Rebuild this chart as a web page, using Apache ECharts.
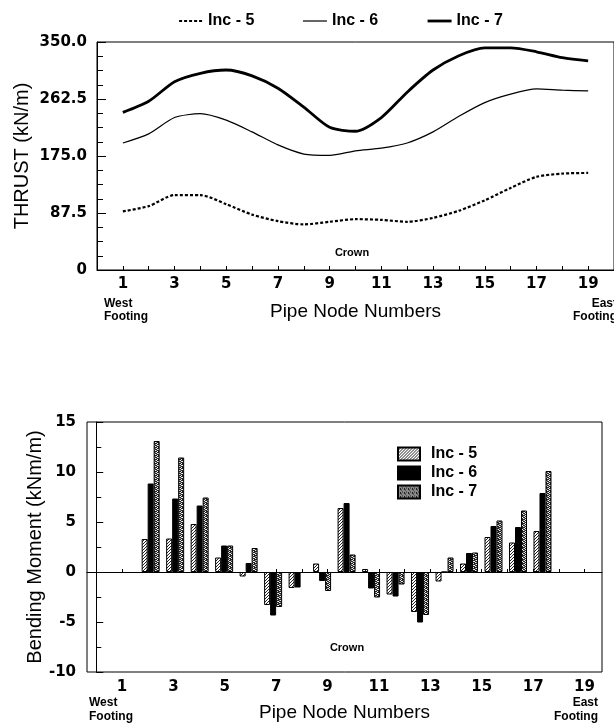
<!DOCTYPE html>
<html>
<head>
<meta charset="utf-8">
<script src="https://cdn.jsdelivr.net/npm/echarts@6/dist/echarts.min.js"></script>
<style>
  html, body { margin: 0; padding: 0; background: #fff; }
  #chart { width: 614px; height: 725px; }
</style>
</head>
<body>
<div id="chart"></div>
<script>
// pipe nodes and thrust values (kN/m)
var nodes = [1, 2, 3, 4, 5, 6, 7, 8, 9, 10, 11, 12, 13, 14, 15, 16, 17, 18, 19];
var thrust5 = [90, 98, 115, 115, 101, 85, 75, 70, 74, 78, 77, 74, 80, 91, 107, 126, 143, 148, 149];
var thrust6 = [195, 209, 234, 240, 230, 212, 192, 178, 176, 183, 187, 195, 212, 236, 257, 270, 278, 276, 275];
var thrust7 = [242, 259, 289, 302, 307, 298, 279, 250, 219, 213, 234, 273, 307, 329, 341, 341, 335, 326, 321];

// bending moment (kNm/m), lower plot
var barNodes = [2, 3, 4, 5, 6, 7, 8, 9, 10, 11, 12, 13, 14, 15, 16, 17, 18];
var moment5 = [3.3, 3.35, 4.8, 1.45, -0.45, -3.3, -1.6, 0.85, 6.4, 0.3, -2.25, -4.0, -0.95, 0.85, 3.5, 2.95, 4.1];
var moment6 = [8.85, 7.35, 6.65, 2.65, 0.9, -4.35, -1.55, -0.9, 6.9, -1.65, -2.45, -5.05, 0, 1.9, 4.6, 4.5, 7.9];
var moment7 = [13.1, 11.45, 7.45, 2.65, 2.4, -3.5, -0.1, -1.9, 1.75, -2.55, -1.25, -4.3, 1.45, 1.95, 5.15, 6.15, 10.1];

var xLabels = [1, 3, 5, 7, 9, 11, 13, 15, 17, 19];
var incNames = ['Inc - 5', 'Inc - 6', 'Inc - 7'];
var barNames = ['m5', 'm6', 'm7'];

var FONT = 'Liberation Sans, Arial, sans-serif';
var TICKFONT = 'DejaVu Sans, Liberation Sans, sans-serif';

// line styles shared by the curves and their legend samples
var lineStyles = [
    {color: '#000', width: 2.2, type: [3, 2]},
    {color: '#000', width: 1.2, type: 'solid'},
    {color: '#000', width: 2.8, type: 'solid'}
];

function pairs(xs, ys) {
    var out = [];
    for (var i = 0; i < xs.length; i++) {
        out.push([xs[i], ys[i]]);
    }
    return out;
}

// small canvas fills for the hatched bars
function makePattern(kind) {
    var c = document.createElement('canvas');
    var ctx = c.getContext('2d');
    if (kind === 'hatch') {
        c.width = 3;
        c.height = 3;
        ctx.fillStyle = '#fff';
        ctx.fillRect(0, 0, 3, 3);
        ctx.fillStyle = '#222';
        for (var i = 0; i < 3; i++) {
            ctx.fillRect(i, 2 - i, 1, 1);
        }
    } else {
        c.width = 4;
        c.height = 4;
        ctx.fillStyle = '#222';
        ctx.fillRect(0, 0, 4, 4);
        ctx.fillStyle = '#eee';
        ctx.fillRect(0, 0, 1, 1);
        ctx.fillRect(2, 1, 1, 1);
        ctx.fillRect(3, 2, 1, 1);
        ctx.fillRect(1, 3, 1, 1);
        ctx.fillRect(1, 1, 1, 1);
        ctx.fillStyle = '#888';
        ctx.fillRect(3, 0, 1, 1);
        ctx.fillRect(0, 2, 1, 1);
    }
    return {image: c, repeat: 'repeat'};
}

var tickLabel = {color: '#000', fontSize: 15, fontWeight: 'bold', fontFamily: TICKFONT};
var axisName = {color: '#000', fontSize: 19, fontFamily: FONT};
var yName = {color: '#000', fontSize: 20, fontFamily: FONT};
var blackLine = {lineStyle: {color: '#000', width: 1}};

var chart = echarts.init(document.getElementById('chart'), null, {renderer: 'canvas'});

var option = {
    animation: false,
    backgroundColor: '#fff',
    legend: [{
        data: incNames.map(function (n, i) {
            return {name: n, lineStyle: lineStyles[i]};
        }),
        left: 173,
        top: 8,
        itemWidth: 24,
        itemHeight: 14,
        itemGap: 48,
        itemStyle: {opacity: 0},
        textStyle: {color: '#000', fontSize: 16, fontWeight: 'bold', fontFamily: FONT}
    }, {
        data: barNames,
        orient: 'vertical',
        left: 392,
        top: 441,
        itemWidth: 22,
        itemHeight: 13,
        itemGap: 3,
        icon: 'rect',
        formatter: function (name) {
            return incNames[barNames.indexOf(name)];
        },
        textStyle: {color: '#000', fontSize: 16, fontWeight: 'bold', fontFamily: FONT, padding: [0, 0, 0, 6]}
    }],
    grid: [
        {left: 97, right: -2, top: 42, height: 228, show: true, borderColor: '#000', borderWidth: 1},
        {left: 87, right: 12, top: 422, height: 250, show: true, borderColor: '#000', borderWidth: 1}
    ],
    xAxis: [{
        gridIndex: 0,
        type: 'value',
        min: 0,
        max: 20,
        name: 'Pipe Node Numbers',
        nameLocation: 'middle',
        nameGap: 32,
        nameMoveOverlap: false,
        nameTextStyle: axisName,
        axisLine: blackLine,
        axisTick: {inside: true, length: 4, customValues: nodes, lineStyle: {color: '#000'}},
        axisLabel: Object.assign({margin: 7, customValues: xLabels}, tickLabel),
        splitLine: {show: false}
    }, {
        gridIndex: 1,
        type: 'value',
        min: -0.36,
        max: 19.68,
        name: 'Pipe Node Numbers',
        nameLocation: 'middle',
        nameGap: 31,
        nameMoveOverlap: false,
        nameTextStyle: axisName,
        axisLine: blackLine,
        axisTick: {inside: true, length: 3, customValues: nodes, lineStyle: {color: '#000'}},
        axisLabel: Object.assign({margin: 8, customValues: xLabels}, tickLabel),
        splitLine: {show: false}
    }, {
        // bar positions (drawn slightly tighter than the labels)
        gridIndex: 1,
        type: 'value',
        min: -0.6,
        max: 20.43,
        show: false
    }],
    yAxis: [{
        gridIndex: 0,
        type: 'value',
        min: 0,
        max: 350,
        interval: 87.5,
        name: 'THRUST (kN/m)',
        nameLocation: 'middle',
        nameGap: 65,
        nameMoveOverlap: false,
        nameTextStyle: yName,
        axisLine: blackLine,
        axisTick: {inside: true, length: 9, lineStyle: {color: '#000'}},
        minorTick: {show: true, splitNumber: 4, length: 6, lineStyle: {color: '#000'}},
        axisLabel: Object.assign({margin: 10, formatter: function (v) {
            return v === 0 ? '0' : v.toFixed(1);
        }}, tickLabel),
        splitLine: {show: false}
    }, {
        gridIndex: 1,
        type: 'value',
        min: -10,
        max: 15,
        interval: 5,
        name: 'Bending Moment (kNm/m)',
        nameLocation: 'middle',
        nameGap: 42,
        nameMoveOverlap: false,
        nameTextStyle: yName,
        axisLine: blackLine,
        axisTick: {inside: true, length: 7, lineStyle: {color: '#000'}},
        minorTick: {show: true, splitNumber: 2, length: 5, lineStyle: {color: '#000'}},
        axisLabel: Object.assign({margin: 11}, tickLabel),
        splitLine: {show: false}
    }],
    series: [{
        name: incNames[0],
        type: 'line',
        xAxisIndex: 0,
        yAxisIndex: 0,
        data: pairs(nodes, thrust5),
        smooth: 0.25,
        symbol: 'none',
        color: '#000',
        lineStyle: lineStyles[0]
    }, {
        name: incNames[1],
        type: 'line',
        xAxisIndex: 0,
        yAxisIndex: 0,
        data: pairs(nodes, thrust6),
        smooth: 0.25,
        symbol: 'none',
        color: '#000',
        lineStyle: lineStyles[1]
    }, {
        name: incNames[2],
        type: 'line',
        xAxisIndex: 0,
        yAxisIndex: 0,
        data: pairs(nodes, thrust7),
        smooth: 0.25,
        symbol: 'none',
        color: '#000',
        lineStyle: lineStyles[2]
    }, {
        name: barNames[0],
        type: 'bar',
        xAxisIndex: 2,
        yAxisIndex: 1,
        data: pairs(barNodes, moment5),
        barWidth: 6,
        barGap: '0%',
        itemStyle: {color: makePattern('hatch'), borderColor: '#000', borderWidth: 1},
        markLine: {
            silent: true,
            symbol: 'none',
            label: {show: false},
            lineStyle: {color: '#000', width: 1, type: 'solid'},
            data: [{yAxis: 0}]
        }
    }, {
        name: barNames[1],
        type: 'bar',
        xAxisIndex: 2,
        yAxisIndex: 1,
        data: pairs(barNodes, moment6),
        barWidth: 6,
        barGap: '0%',
        itemStyle: {color: '#000', borderColor: '#000', borderWidth: 1}
    }, {
        name: barNames[2],
        type: 'bar',
        xAxisIndex: 2,
        yAxisIndex: 1,
        data: pairs(barNodes, moment7),
        barWidth: 6,
        barGap: '0%',
        itemStyle: {color: makePattern('dots'), borderColor: '#000', borderWidth: 1}
    }],
    graphic: [
        {type: 'text', x: 352, y: 253, style: {text: 'Crown', font: 'bold 11px ' + FONT, fill: '#000', textAlign: 'center', textVerticalAlign: 'middle'}},
        {type: 'text', x: 347, y: 648, style: {text: 'Crown', font: 'bold 11px ' + FONT, fill: '#000', textAlign: 'center', textVerticalAlign: 'middle'}},
        {type: 'text', x: 104, y: 297, style: {text: 'West\nFooting', font: 'bold 12px ' + FONT, lineHeight: 13, fill: '#000', textAlign: 'left', textVerticalAlign: 'top'}},
        {type: 'text', x: 617, y: 297, style: {text: 'East\nFooting', font: 'bold 12px ' + FONT, lineHeight: 13, fill: '#000', textAlign: 'right', textVerticalAlign: 'top'}},
        {type: 'text', x: 89, y: 696, style: {text: 'West\nFooting', font: 'bold 12px ' + FONT, lineHeight: 14, fill: '#000', textAlign: 'left', textVerticalAlign: 'top'}},
        {type: 'text', x: 598, y: 696, style: {text: 'East\nFooting', font: 'bold 12px ' + FONT, lineHeight: 14, fill: '#000', textAlign: 'right', textVerticalAlign: 'top'}}
    ]
};

chart.setOption(option);
</script>
</body>
</html>
